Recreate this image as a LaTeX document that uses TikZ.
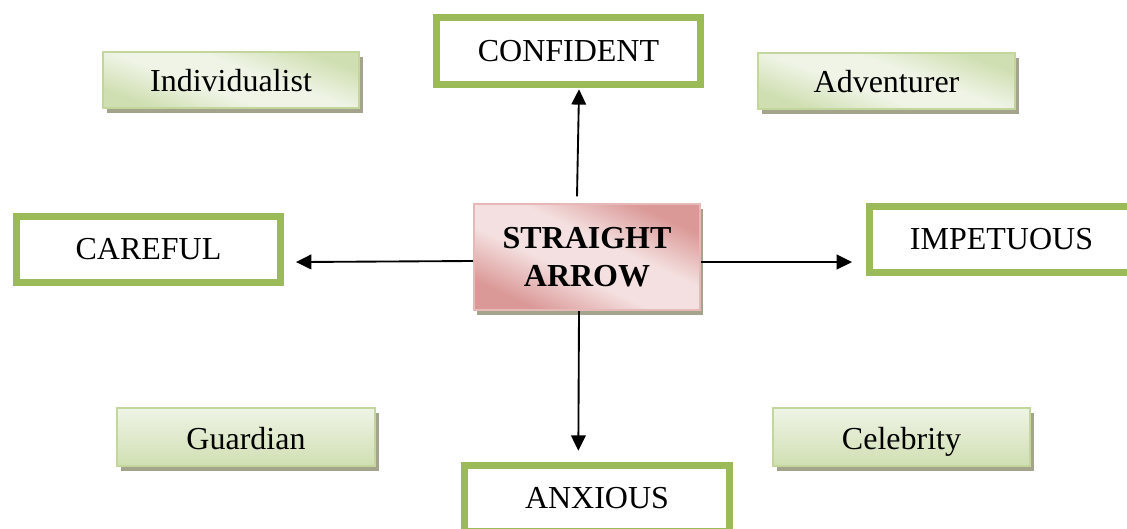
\documentclass[tikz,border=0pt]{standalone}
\usepackage{fontspec}
\setmainfont{Liberation Serif}
\usetikzlibrary{arrows.meta,shadows,calc}
\definecolor{gborder}{HTML}{9BBB59}
\definecolor{lgborder}{HTML}{C3D69B}
\definecolor{lgdark}{HTML}{D0DFB2}
\definecolor{lglight}{HTML}{EFF4E6}
\definecolor{pkborder}{HTML}{E6B9B8}
\definecolor{pkdark}{HTML}{DA9896}
\definecolor{pklight}{HTML}{F4E0E0}
\definecolor{shadowc}{HTML}{A4A48C}
\pgfdeclarehorizontalshading{pinkdiag}{100bp}{color(0bp)=(pkdark); color(26bp)=(pkdark); color(43bp)=(pklight); color(57bp)=(pklight); color(74bp)=(pkdark); color(100bp)=(pkdark)}
\pgfdeclarehorizontalshading{greendiag}{100bp}{color(0bp)=(lgdark); color(26bp)=(lgdark); color(43bp)=(lglight); color(57bp)=(lglight); color(74bp)=(lgdark); color(100bp)=(lgdark)}
\tikzset{
  bigtext/.style={font=\fontsize{24}{28.5}\selectfont},
  trait/.style={bigtext, draw=gborder, line width=4.9pt, fill=white, minimum width=198.3pt, minimum height=50pt, inner sep=0pt},
  sub/.style={bigtext, draw=lgborder, line width=1.5pt, inner sep=0pt, text height=20pt, text depth=2pt,
    drop shadow={shadow xshift=3pt, shadow yshift=-3.5pt, fill=shadowc, opacity=1}},
  diagsub/.style={sub, shading=greendiag, shading angle=70},
  vertsub/.style={sub, top color=lglight, bottom color=lgdark},
  mainbox/.style={bigtext, font=\fontsize{24}{28.5}\selectfont\bfseries, align=center, draw=pkborder, line width=1.5pt, inner sep=0pt,
    minimum width=169.5pt, minimum height=79.5pt,
    drop shadow={shadow xshift=2pt, shadow yshift=-4pt, fill=shadowc, opacity=1},
    shading=pinkdiag, shading angle=65},
  conn/.style={line width=1.4pt, -{Triangle[length=11.5pt,width=11pt]}}
}
\begin{document}
\begin{tikzpicture}[x=0.75pt,y=-0.75pt]
\useasboundingbox (0,0) rectangle (1127,528);
% sub-type boxes
\node[diagsub, minimum width=192pt, minimum height=42pt] (indiv) at (231,80) {Individualist};
\node[diagsub, minimum width=192.8pt, minimum height=42pt] (adv) at (886.5,81) {Adventurer};
\node[vertsub, minimum width=193.5pt, minimum height=43.5pt] (guard) at (246,437) {Guardian};
\node[vertsub, minimum width=192.8pt, minimum height=43.5pt] (celeb) at (901.5,437) {Celebrity};
% main box
\node[mainbox] (main) at (587,257) {STRAIGHT\\ARROW};
% trait boxes
\node[trait, minimum height=50.5pt] (conf) at (568.5,51) {CONFIDENT};
\node[trait, minimum height=49.8pt] (care) at (148.5,249.5) {CAREFUL};
\node[trait, minimum height=49.8pt] (imp) at (1001.5,239.5) {IMPETUOUS};
\node[trait, minimum width=199pt, minimum height=49.8pt] (anx) at (597,498.5) {ANXIOUS};
% connectors
\draw[conn] ([xshift=-7.5pt,yshift=5pt]main.north) -- ([xshift=7.9pt,yshift=-1pt]conf.south);
\draw[conn] ([xshift=-6pt]main.south) -- ([xshift=-14pt,yshift=8.5pt]anx.north);
\draw[conn] ([yshift=-3pt]main.west) -- ([xshift=9pt,yshift=-9.4pt]care.east);
\draw[conn] ([yshift=-3.75pt]main.east) -- ([xshift=-10.5pt,yshift=-16.9pt]imp.west);
\end{tikzpicture}
\end{document}
